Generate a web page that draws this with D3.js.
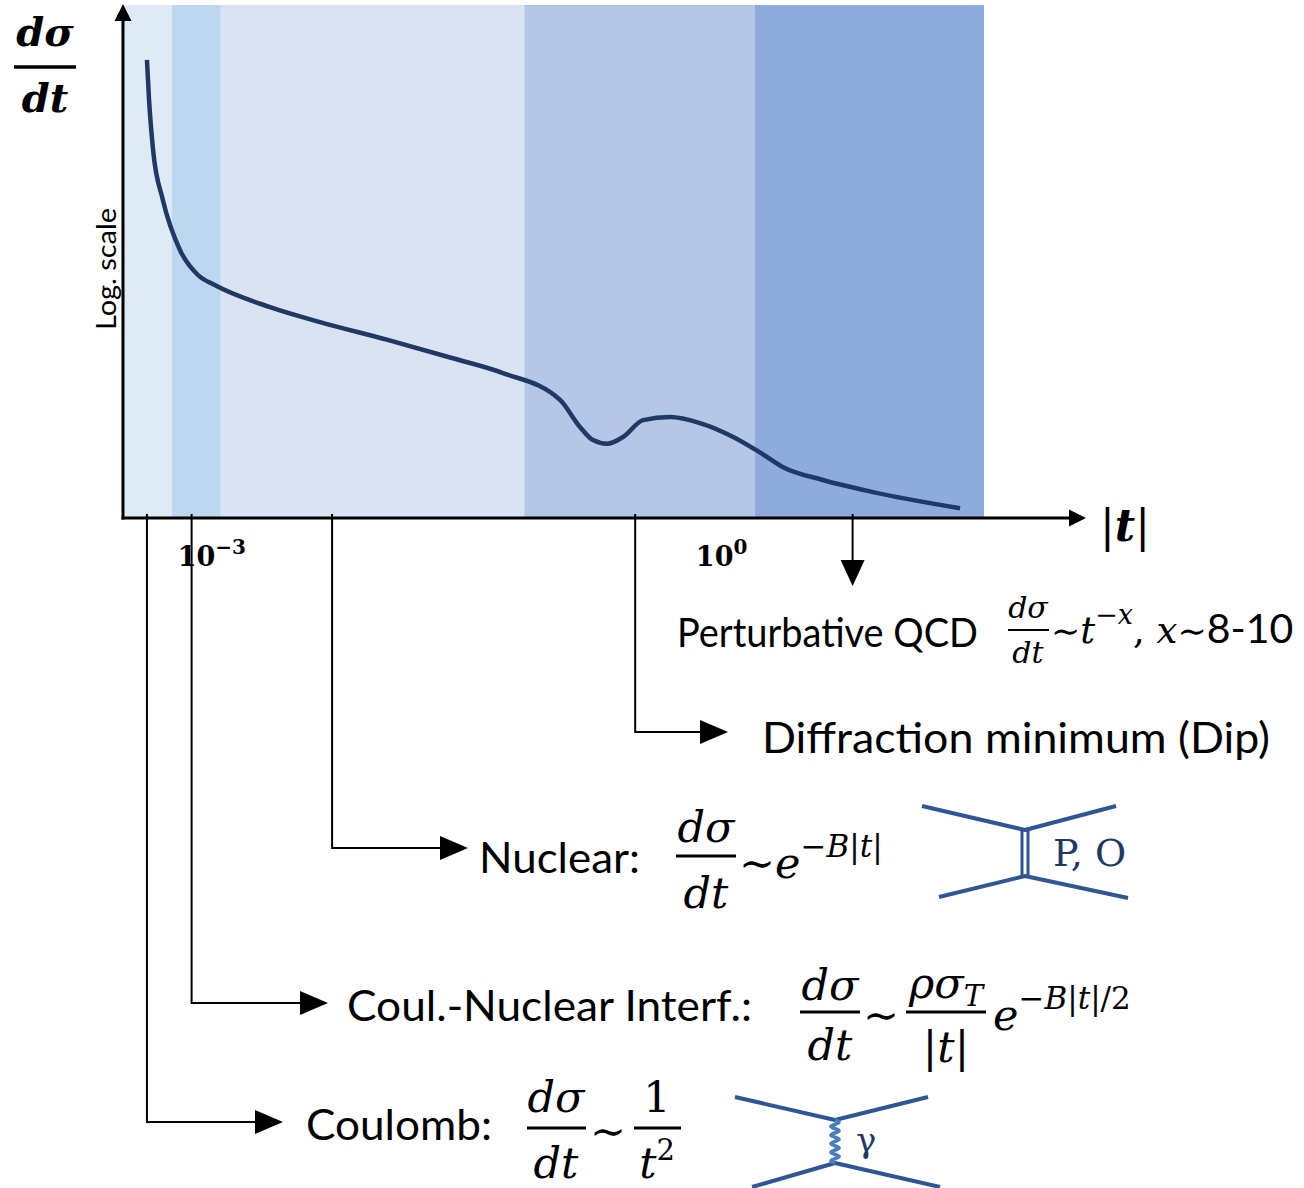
<!DOCTYPE html>
<html>
<head>
<meta charset="utf-8">
<script src="https://cdn.jsdelivr.net/npm/d3@7"></script>
<style>
  body { margin: 0; background: #ffffff; }
  svg { display: block; }
</style>
</head>
<body>
<svg id="chart" width="1304" height="1188"></svg>
<script>
// Schematic elastic differential cross section dσ/dt versus |t|
// |t| sample points (GeV²) along the curve
const tValues = [4.15e-4, 4.27e-4, 4.51e-4, 5.15e-4, 6.49e-4, 8.28e-4, 1.04e-3,
  2.20e-3, 4.33e-3, 1.07e-2, 2.62e-2, 5.16e-2, 0.112, 0.147, 0.175, 0.212,
  0.263, 0.345, 0.498, 0.746, 1.17, 1.68, 2.30, 3.95, 7.78, 25.3];
// dσ/dt at those points (arbitrary units, plotted on a log scale)
const dsdtValues = [8.5e8, 1.41e8, 1.49e7, 1.58e6, 1.68e5, 5.46e4, 3.48e4,
  1.29e4, 6.6e3, 3.0e3, 1.3e3, 670, 200, 59, 33, 28,
  38, 81, 93, 71, 38, 19, 9.8, 5.5, 3.2, 1.55];

// |t| boundaries of the shaded regions (Coulomb, CNI, nuclear, dip, pQCD)
const regionEdges = [3e-4, 5.8e-4, 1.13e-3, 0.069, 1.57, 35];
// tick values on the |t| axis and their labels (base, exponent)
const tickValues = [1e-3, 1];
const tickBases = ["10", "10"];
const tickExponents = ["−3", "0"];
// |t| at which each regime's leader line leaves the axis
const markerT = [4.15e-4, 7.6e-4, 5.1e-3, 0.31, 5.9];
const markerNames = ["Coulomb:", "Coul.-Nuclear Interf.:", "Nuclear:",
  "Diffraction minimum (Dip)", "Perturbative QCD"];

const regionColors = ["#deebf7", "#bdd7ee", "#dae3f3", "#b4c7e7", "#8faadc"];

const svg = d3.select("#chart");
const plot = { left: 123, right: 984, top: 5, bottom: 518 };

const x = d3.scaleLog().domain([regionEdges[0], regionEdges[regionEdges.length - 1]])
  .range([plot.left, plot.right]);
const y = d3.scaleLog().domain([1, 1e10]).range([plot.bottom, plot.top]);

const SANS = "Lato, 'Open Sans', sans-serif";
const SERIF = "'DejaVu Serif', 'Liberation Serif', serif";

// ---- shaded regions
svg.append("g").selectAll("rect")
  .data(d3.pairs(regionEdges))
  .join("rect")
  .attr("x", d => x(d[0]))
  .attr("y", plot.top)
  .attr("width", d => x(d[1]) - x(d[0]))
  .attr("height", plot.bottom - plot.top)
  .attr("fill", (d, i) => regionColors[i]);

// ---- cross-section curve
const curveData = tValues.map((t, i) => ({ t, v: dsdtValues[i] }));
svg.append("path")
  .datum(curveData)
  .attr("fill", "none")
  .attr("stroke", "#203864")
  .attr("stroke-width", 4.5)
  .attr("stroke-linecap", "butt")
  .attr("stroke-linejoin", "round")
  .attr("d", d3.line().x(d => x(d.t)).y(d => y(d.v)).curve(d3.curveMonotoneX));

// ---- arrowhead helper: filled triangle with tip at (tx, ty) pointing in dir
function arrowHead(g, tx, ty, dir, len, half) {
  let pts;
  if (dir === "right") pts = [[tx, ty], [tx - len, ty - half], [tx - len, ty + half]];
  else if (dir === "up") pts = [[tx, ty], [tx - half, ty + len], [tx + half, ty + len]];
  else pts = [[tx, ty], [tx - half, ty - len], [tx + half, ty - len]];
  g.append("path").attr("d", "M" + pts.map(p => p.join(",")).join("L") + "Z").attr("fill", "#000");
}

// ---- axes
const axes = svg.append("g");
axes.append("line").attr("x1", plot.left).attr("x2", plot.left)
  .attr("y1", plot.bottom + 1.5).attr("y2", 20).attr("stroke", "#000").attr("stroke-width", 3);
arrowHead(axes, plot.left, 4, "up", 17, 8.5);
axes.append("line").attr("x1", plot.left - 1.5).attr("x2", 1070)
  .attr("y1", plot.bottom).attr("y2", plot.bottom).attr("stroke", "#000").attr("stroke-width", 3);
arrowHead(axes, 1086, plot.bottom, "right", 17, 8.5);

// |t| axis title
const tTitle = svg.append("text").attr("x", 1100).attr("y", 541)
  .attr("font-family", SERIF).attr("font-size", 44).attr("fill", "#000");
tTitle.append("tspan").text("|");
tTitle.append("tspan").attr("font-weight", "bold").attr("font-style", "italic").text("t");
tTitle.append("tspan").text("|");

// tick labels
tickValues.forEach((tv, i) => {
  const t = svg.append("text").attr("x", x(tv)).attr("y", 566)
    .attr("text-anchor", "middle").attr("font-family", SERIF)
    .attr("font-weight", "bold").attr("font-size", 27).attr("fill", "#000");
  t.append("tspan").text(tickBases[i]);
  t.append("tspan").attr("font-size", 20).attr("dy", -12).text(tickExponents[i]);
});

// dσ/dt axis title
const yt = svg.append("g").attr("font-family", SERIF).attr("font-weight", "bold")
  .attr("font-style", "italic").attr("font-size", 40).attr("text-anchor", "middle");
yt.append("text").attr("x", 45).attr("y", 46).text("dσ");
yt.append("line").attr("x1", 14).attr("x2", 76).attr("y1", 67).attr("y2", 67)
  .attr("stroke", "#000").attr("stroke-width", 3.5);
yt.append("text").attr("x", 45).attr("y", 112).text("dt");

svg.append("text")
  .attr("transform", "translate(116,269) rotate(-90)")
  .attr("text-anchor", "middle").attr("font-family", SANS).attr("font-size", 27)
  .attr("textLength", 122).attr("lengthAdjust", "spacingAndGlyphs")
  .text("Log. scale");

// ---- leader lines from the axis to each regime's description
const leaders = svg.append("g").attr("fill", "none").attr("stroke", "#000").attr("stroke-width", 2);
const turnY = [1122, 1003, 848, 732];
const tipX = [283, 328, 468, 728];
turnY.forEach((ty, i) => {
  const lx = x(markerT[i]);
  leaders.append("path").attr("d", `M${lx},514V${ty}H${tipX[i] - 26}`);
  arrowHead(svg, tipX[i], ty, "right", 28, 12);
});
const qx = x(markerT[4]);
leaders.append("path").attr("d", `M${qx},514V562`);
arrowHead(svg, qx, 586, "down", 26, 12);

// regime names
const nameLayout = [
  { x: 306, y: 1140, w: 186, size: 43 },
  { x: 347, y: 1021, w: 405, size: 43 },
  { x: 479, y: 873, w: 161, size: 43 },
  { x: 762, y: 753, w: 508, size: 43 },
  { x: 677, y: 647, w: 301, size: 40 }
];
markerNames.forEach((name, i) => {
  const L = nameLayout[i];
  svg.append("text").attr("x", L.x).attr("y", L.y)
    .attr("font-family", SANS).attr("font-size", L.size).attr("fill", "#000")
    .attr("textLength", L.w).attr("lengthAdjust", "spacingAndGlyphs")
    .text(name);
});

// ---- formula helpers
// pieces: [text, {size, it, up, font}] ; up = baseline offset (negative raises)
function formula(xp, yp, pieces, anchor) {
  const t = svg.append("text").attr("x", xp).attr("y", yp)
    .attr("font-family", SERIF).attr("fill", "#000")
    .attr("text-anchor", anchor || "start");
  let cur = 0;
  pieces.forEach(([s, o]) => {
    o = o || {};
    const off = o.up || 0;
    const sp = t.append("tspan").text(s)
      .attr("font-size", o.size || 43)
      .attr("font-style", o.it === false ? "normal" : "italic");
    if (o.font) sp.attr("font-family", o.font);
    if (off !== cur) { sp.attr("dy", off - cur); cur = off; }
  });
  return t;
}
function bar(x1, x2, yb, w) {
  svg.append("line").attr("x1", x1).attr("x2", x2).attr("y1", yb).attr("y2", yb)
    .attr("stroke", "#000").attr("stroke-width", w || 3);
}

// Perturbative QCD: dσ/dt ~ t^-x, x ~ 8-10
formula(1028, 618, [["dσ", { size: 30 }]], "middle");
bar(1008, 1049, 630, 2);
formula(1028, 663, [["dt", { size: 30 }]], "middle");
formula(1051, 643, [
  ["∼", { size: 35, it: false }], ["t", { size: 37 }],
  ["−", { size: 27, it: false, up: -19 }], ["x", { size: 27, up: -19 }],
  [", ", { size: 37, it: false }], ["x", { size: 37 }], ["∼", { size: 35, it: false }],
  ["8-10", { size: 41, it: false, font: SANS }]
]);

// Nuclear: dσ/dt ~ e^{-B|t|}
formula(706, 842, [["dσ"]], "middle");
bar(676, 736, 856);
formula(706, 908, [["dt"]], "middle");
formula(739, 878, [
  ["∼", { it: false }], ["e"],
  ["−", { size: 31, it: false, up: -21 }], ["B", { size: 31, up: -21 }],
  ["|", { size: 31, it: false, up: -21 }], ["t", { size: 31, up: -21 }],
  ["|", { size: 31, it: false, up: -21 }]
]);

// Coulomb-nuclear interference: dσ/dt ~ ρσ_T/|t| e^{-B|t|/2}
formula(830, 1000, [["dσ"]], "middle");
bar(800, 860, 1012);
formula(830, 1060, [["dt"]], "middle");
formula(863, 1030, [["∼", { it: false }]]);
formula(946, 998, [["ρσ"], ["T", { size: 29, up: 8 }]], "middle");
bar(906, 986, 1012);
formula(946, 1062, [["|", { it: false }], ["t"], ["|", { it: false }]], "middle");
formula(993, 1030, [
  ["e"],
  ["−", { size: 31, it: false, up: -21 }], ["B", { size: 31, up: -21 }],
  ["|", { size: 31, it: false, up: -21 }], ["t", { size: 31, up: -21 }],
  ["|/2", { size: 31, it: false, up: -21 }]
]);

// Coulomb: dσ/dt ~ 1/t²
formula(556, 1112, [["dσ"]], "middle");
bar(527, 586, 1128);
formula(556, 1178, [["dt"]], "middle");
formula(590, 1146, [["∼", { it: false }]]);
formula(657, 1112, [["1", { it: false }]], "middle");
bar(634, 681, 1128);
formula(657, 1178, [["t"], ["2", { size: 29, it: false, up: -18 }]], "middle");

// ---- exchange diagrams
const diag = svg.append("g").attr("fill", "none").attr("stroke", "#2f5597")
  .attr("stroke-width", 4).attr("stroke-linejoin", "round");
// pomeron / odderon exchange
diag.append("path").attr("d", "M922,806L1025,830L1116,806");
diag.append("path").attr("d", "M939,897L1025,876L1128,898");
diag.append("path").attr("d", "M1022,830V876M1028,830V876").attr("stroke-width", 3);
svg.append("text").attr("x", 1053).attr("y", 866).attr("font-family", SERIF)
  .attr("font-size", 38).attr("fill", "#203864").text("P, O");
// photon exchange
diag.append("path").attr("d", "M735,1097L835,1120L928,1097");
diag.append("path").attr("d", "M752,1187L835,1163L940,1187");
const wave = d3.range(0, 43.01, 0.5).map(s => [835 + 4 * Math.sin(2 * Math.PI * s / 8.6), 1120 + s]);
svg.append("path").attr("d", d3.line()(wave)).attr("fill", "none")
  .attr("stroke", "#4a7ebb").attr("stroke-width", 3.5);
svg.append("text").attr("x", 856).attr("y", 1152).attr("font-family", SERIF)
  .attr("font-size", 34).attr("fill", "#203864").text("γ");
</script>
</body>
</html>
